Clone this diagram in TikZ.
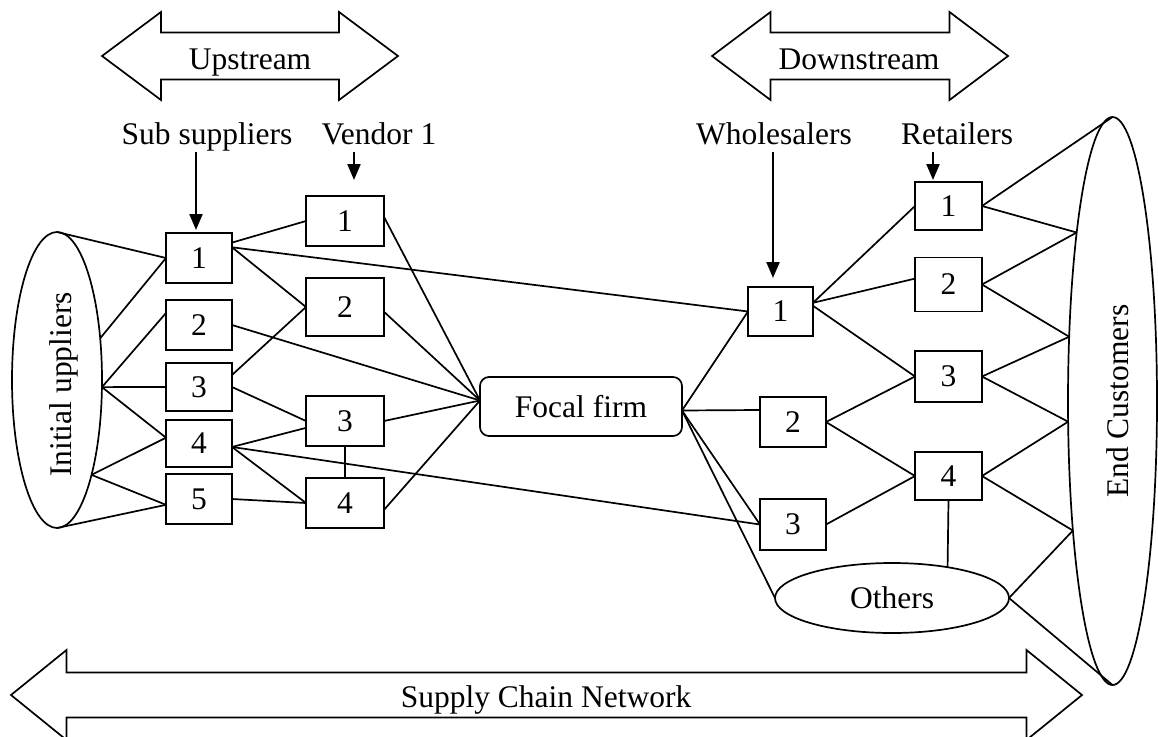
\documentclass[tikz,border=0pt]{standalone}
\usepackage{fontspec}
\setmainfont{Liberation Serif}
\usetikzlibrary{arrows.meta,shapes.geometric}

\tikzset{
  unit/.style={draw, rectangle, inner sep=0pt, outer sep=0pt},
  oval/.style={draw, ellipse, inner sep=0pt, outer sep=0pt},
  heading/.style={inner sep=0pt, text height=21pt, text depth=7pt},
  pointer/.style={line width=2.2pt, -{Triangle[length=16pt,width=13pt]}}
}

% freccia larga a due punte: punta sx, punta dx, y centro, lunghezza punta, mezzo fusto, mezza punta
\newcommand{\wideboth}[6]{%
  \draw (#1,#3) -- (#1+#4,#3-#6) -- (#1+#4,#3-#5) -- (#2-#4,#3-#5) -- (#2-#4,#3-#6)
    -- (#2,#3) -- (#2-#4,#3+#6) -- (#2-#4,#3+#5) -- (#1+#4,#3+#5) -- (#1+#4,#3+#6) -- cycle;}

\begin{document}
\begin{tikzpicture}[x=1pt, y=-1pt, line width=1.7pt, font=\fontsize{31.5}{36}\selectfont]

    \clip (0,0) rectangle (1158,736);

    % Frecce larghe
    \wideboth{102}{398}{56}{59}{23.5}{44}
    \node[heading] (upstream) at (250,62) {Upstream};
    \wideboth{712}{1008}{56}{58.5}{23.5}{44}
    \node[heading] (downstream) at (859,62) {Downstream};
    \wideboth{11}{1082}{695}{55.5}{22.5}{45}
    \node[heading] (network) at (546,700) {Supply Chain Network};

    % Titoli delle colonne
    \node[heading] (sublbl) at (207,137) {Sub suppliers};
    \node[heading] (venlbl) at (379,137) {Vendor 1};
    \node[heading] (whlbl) at (774,137) {Wholesalers};
    \node[heading] (retlbl) at (957,137) {Retailers};

    % Ellissi
    \node[oval, minimum width=90pt, minimum height=296pt] (init) at (57,380) {};
    \node[heading, rotate=90] (initlbl) at (64,384.5) {Initial uppliers};
    \node[oval, minimum width=89pt, minimum height=568pt] (ends) at (1112.5,401) {};
    \node[heading, rotate=90] (endslbl) at (1121,401) {End Customers};
    \node[oval, minimum width=234pt, minimum height=70pt] (others) at (892,598) {Others};

    % Sub fornitori
    \node[unit, minimum width=66pt, minimum height=50pt] (s1) at (199,258) {1};
    \node[unit, minimum width=66pt, minimum height=50pt] (s2) at (199,325) {2};
    \node[unit, minimum width=66pt, minimum height=48pt] (s3) at (199,387) {3};
    \node[unit, minimum width=66pt, minimum height=47pt] (s4) at (199,443.5) {4};
    \node[unit, minimum width=66pt, minimum height=50pt] (s5) at (199,499) {5};

    % Fornitori
    \node[unit, minimum width=78pt, minimum height=50pt] (v1) at (345,221) {1};
    \node[unit, minimum width=78pt, minimum height=58pt] (v2) at (345,307) {2};
    \node[unit, minimum width=78pt, minimum height=50pt] (v3) at (345,421) {3};
    \node[unit, minimum width=78pt, minimum height=50pt] (v4) at (345,503) {4};

    % Impresa focale
    \node[unit, rounded corners=9pt, minimum width=202pt, minimum height=59pt] (focal) at (581,406.5) {Focal firm};
    \coordinate (fin) at ([yshift=6pt]focal.west);
    \coordinate (fout) at ([yshift=-4pt]focal.east);

    % Grossisti e dettaglianti
    \node[unit, minimum width=65pt, minimum height=49pt] (w1) at (780.5,311.5) {1};
    \node[unit, minimum width=66pt, minimum height=50pt] (w2) at (793,422) {2};
    \node[unit, minimum width=66pt, minimum height=51pt] (w3) at (793,524.5) {3};
    \node[unit, minimum width=67pt, minimum height=48pt] (r1) at (948.5,206) {1};
    \node[unit, minimum width=67pt, minimum height=54pt] (r2) at (948.5,284.5) {2};
    \node[unit, minimum width=67pt, minimum height=51pt] (r3) at (948.5,376.5) {3};
    \node[unit, minimum width=67pt, minimum height=48pt] (r4) at (948.5,476) {4};

    % Frecce dai titoli
    \draw[pointer, shorten >=3pt] ([xshift=-3pt]s1.north |- sublbl.south) -- ([xshift=-3pt]s1.north);
    \draw[pointer, shorten >=16pt] ([xshift=9pt]v1.north |- venlbl.south) -- ([xshift=9pt]v1.north);
    \draw[pointer, shorten >=9pt] ([xshift=-7.5pt]w1.north |- whlbl.south) -- ([xshift=-7.5pt]w1.north);
    \draw[pointer, shorten >=2pt] ([xshift=-15.5pt]r1.north |- retlbl.south) -- ([xshift=-15.5pt]r1.north);

    % Fornitori iniziali -> sub fornitori
    \draw (init.north) -- (s1.west);
    \draw (init.44) -- (s1.west);
    \draw (init.-9) -- (s2.160);
    \draw (init.-9) -- (s3.west);
    \draw (init.-9) -- (s4.170);
    \draw (init.-70) -- (s4.170);
    \draw (init.-70) -- (s5.190);
    \draw (init.south) -- (s5.190);

    % Sub fornitori -> fornitori
    \draw (s1.25) -- (v1.west);
    \draw (s1.18) -- (v2.west);
    \draw (s1.18) -- (w1.west);
    \draw (s2.east) -- (fin);
    \draw (s3.20) -- (v2.west);
    \draw (s3.east) -- (v3.west);
    \draw (s4.-6) -- (v3.190);
    \draw (s4.-6) -- (v4.west);
    \draw (s4.-6) -- (w3.west);
    \draw (s5.east) -- (v4.west);
    \draw (v3.south) -- (v4.north);

    % Fornitori -> impresa focale
    \draw (v1.6) -- (fin);
    \draw (v2.-7) -- (fin);
    \draw (v3.east) -- (fin);
    \draw (v4.-10) -- (fin);

    % Impresa focale -> valle
    \draw (fout) -- (w1.west);
    \draw (fout) -- (w2.160);
    \draw (fout) -- (w3.west);
    \draw (fout) -- (others.west);

    % Grossisti -> dettaglianti
    \draw (w1.15) -- (r1.west);
    \draw (w1.15) -- (r2.170);
    \draw (w1.10) -- (r3.west);
    \draw (w2.east) -- (r3.west);
    \draw (w2.east) -- (r4.west);
    \draw (w3.east) -- (r4.west);
    \draw (r4.south) -- (others.29);

    % Dettaglianti -> clienti finali
    \draw (r1.east) -- (ends.north);
    \draw (r1.east) -- (ends.102.6);
    \draw (r2.east) -- (ends.102.6);
    \draw (r2.east) -- (ends.124);
    \draw (r3.east) -- (ends.124);
    \draw (r3.east) -- (ends.205.8);
    \draw (r4.east) -- (ends.205.8);
    \draw (r4.east) -- (ends.253.4);
    \draw (others.east) -- (ends.253.4);
    \draw (others.east) -- (ends.south);

\end{tikzpicture}
\end{document}
